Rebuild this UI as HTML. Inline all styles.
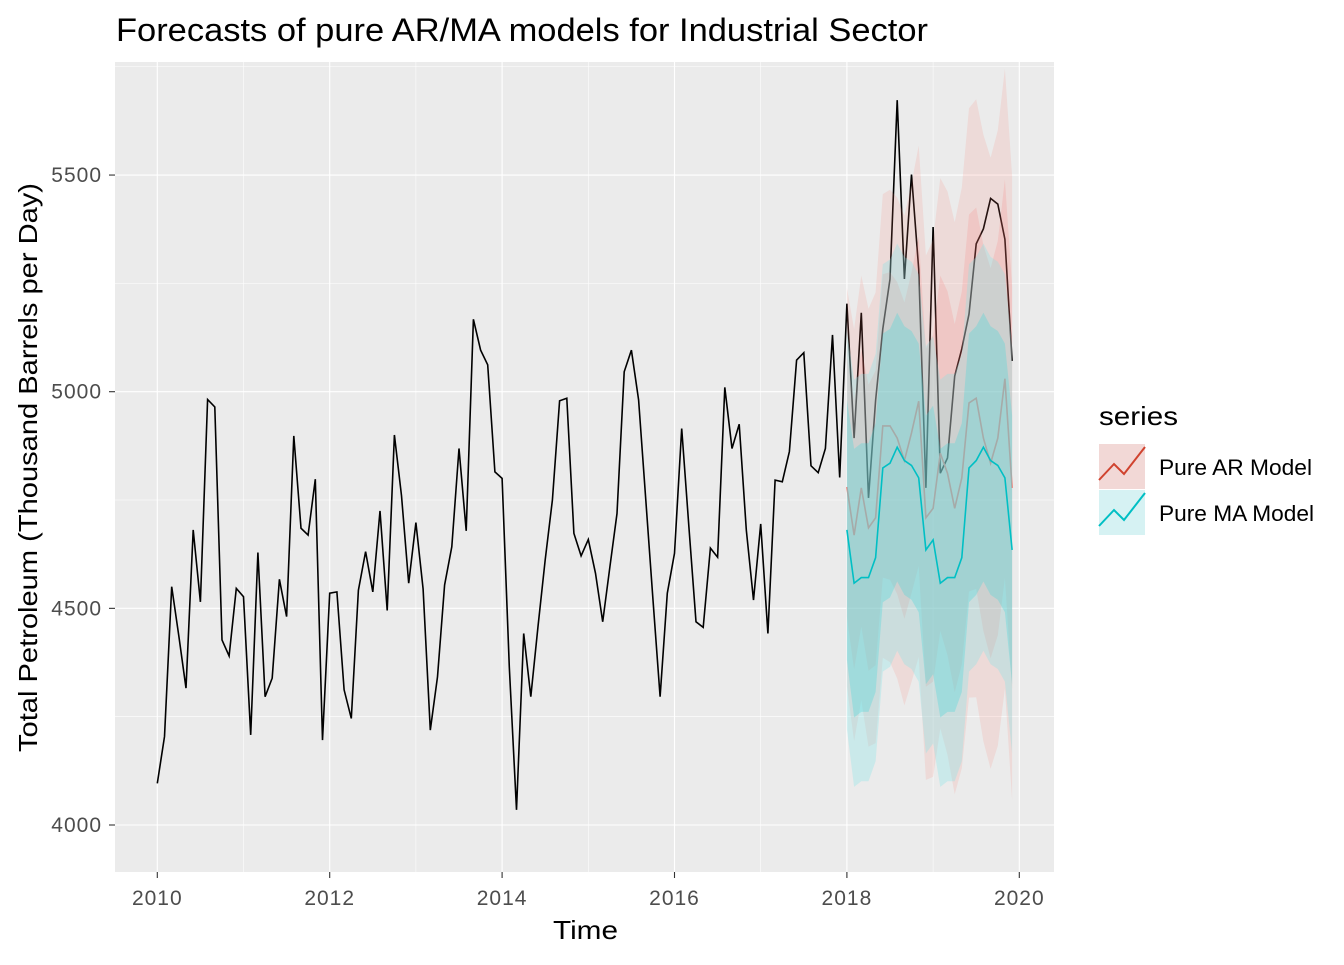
<!DOCTYPE html>
<html><head><meta charset="utf-8"><style>
body{margin:0;background:#fff;}
svg text{font-family:"Liberation Sans",Arial,sans-serif;}
</style></head><body>
<svg id="chart" width="1344" height="960" xmlns="http://www.w3.org/2000/svg">
<rect width="1344" height="960" fill="#fff"/>
<text x="116" y="41" font-size="32" textLength="812" lengthAdjust="spacingAndGlyphs" fill="#000">Forecasts of pure AR/MA models for Industrial Sector</text>
<rect x="115" y="62" width="939" height="810" fill="#EBEBEB"/>
<g id="grid"></g>
<g id="marks"></g>
<g id="axes"></g>
<text x="553" y="939" font-size="26" textLength="65" lengthAdjust="spacingAndGlyphs" fill="#000">Time</text>
<text transform="translate(37,752) rotate(-90)" font-size="26" textLength="569" lengthAdjust="spacingAndGlyphs" fill="#000">Total Petroleum (Thousand Barrels per Day)</text>
<g>
<text x="1099" y="425" font-size="26" textLength="79" lengthAdjust="spacingAndGlyphs" fill="#000">series</text>
<g>
<rect x="1099" y="444" width="46" height="45" fill="#F2D8D6"/>
<polyline points="1099,480 1114,464 1124,474 1145,447" fill="none" stroke="#D0432F" stroke-width="2"/>
<text x="1159" y="475" font-size="22" textLength="153" lengthAdjust="spacingAndGlyphs" fill="#000">Pure AR Model</text>
</g>
<g>
<rect x="1099" y="490" width="46" height="45" fill="#D6F2F3"/>
<polyline points="1099,526 1114,510 1124,520 1145,493" fill="none" stroke="#00BFC4" stroke-width="2"/>
<text x="1159" y="521" font-size="22" textLength="155" lengthAdjust="spacingAndGlyphs" fill="#000">Pure MA Model</text>
</g>
</g>
</svg>
<script>
const actual = [4096,4204,4550,4435,4316,4681,4515,4982,4965,4427,4390,4546,
4527,4208,4629,4296,4339,4567,4481,4898,4685,4669,4798,4196,
4535,4538,4312,4246,4542,4631,4538,4725,4495,4900,4760,4558,
4698,4545,4219,4342,4554,4642,4869,4679,5167,5096,5062,4815,
4800,4365,4035,4442,4296,4458,4612,4750,4979,4985,4673,4621,
4659,4581,4469,4596,4719,5046,5096,4981,4750,4519,4296,4535,
4627,4915,4688,4469,4456,4639,4618,5010,4869,4925,4681,4519,
4695,4442,4796,4792,4862,5073,5090,4829,4813,4869,5131,4802,
5203,4893,5182,4755,4980,5145,5260,5673,5260,5501,5283,4778,
5380,4812,4847,5036,5099,5179,5341,5376,5446,5433,5352,5071];
const arMean = [4780,4669,4778,4686,4709,4921,4921,4893,4841,4905,4978,4709,4731,4858,4812,4731,4801,4974,4985,4893,4835,4893,5030,4778];
const ar80 = [300,310,320,330,340,350,355,360,365,370,380,390,400,410,420,425,430,435,440,445,450,455,460,465];
const ar95 = [460,475,490,505,520,535,545,555,565,575,590,605,620,635,650,660,670,680,690,700,705,710,715,720];
const maMean = [4681,4558,4571,4571,4617,4824,4835,4872,4841,4830,4801,4635,4658,4558,4571,4571,4617,4824,4841,4872,4841,4830,4801,4635];
const ma80 = [300,310,310,310,310,310,310,310,310,310,310,310,310,310,310,310,310,310,310,310,310,310,310,310];
const ma95 = [460,470,470,470,470,470,470,470,470,470,470,470,470,470,470,470,470,470,470,470,470,470,470,470];
const xTicks = [2010,2012,2014,2016,2018,2020];
const yTicks = [4000,4500,5000,5500];

const NS="http://www.w3.org/2000/svg";
const X=t=>157.3+(t-2010)*86.2;
const Y=v=>391.7-(v-5000)*0.4333;
const tAt=i=>2010+i/12;
function mk(tag,attrs,parent){const e=document.createElementNS(NS,tag);for(const k in attrs)e.setAttribute(k,attrs[k]);parent.appendChild(e);return e;}
const grid=document.getElementById('grid'),marks=document.getElementById('marks'),axes=document.getElementById('axes');
for(let y=4250;y<=5750;y+=500){if(Y(y)>62&&Y(y)<872){const l=mk('line',{x1:115,x2:1054,y1:Y(y),y2:Y(y),stroke:'#fff','stroke-width':0.55},grid);

}}
for(let x=2009;x<=2021;x+=2){if(X(x)>115&&X(x)<1054){const l=mk('line',{x1:X(x),x2:X(x),y1:62,y2:872,stroke:'#fff','stroke-width':0.55},grid);

}}
yTicks.forEach(v=>{const l=mk('line',{x1:115,x2:1054,y1:Y(v),y2:Y(v),stroke:'#fff','stroke-width':1.1},grid);


const tk=mk('line',{x1:109,x2:115,y1:Y(v),y2:Y(v),stroke:'#333','stroke-width':1.1},axes);


const t=mk('text',{x:102,y:Y(v)+7,'font-size':21,'text-anchor':'end',fill:'#4D4D4D','letter-spacing':1},axes);t.textContent=v;

});
xTicks.forEach(v=>{const l=mk('line',{x1:X(v),x2:X(v),y1:62,y2:872,stroke:'#fff','stroke-width':1.1},grid);


const tk=mk('line',{x1:X(v),x2:X(v),y1:872,y2:878,stroke:'#333','stroke-width':1.1},axes);


const t=mk('text',{x:X(v),y:905,'font-size':21,'text-anchor':'middle',fill:'#4D4D4D','letter-spacing':1},axes);t.textContent=v;

});
const ap=actual.map((v,i)=>X(tAt(i)).toFixed(1)+','+Y(v).toFixed(1)).join(' ');
const al=mk('polyline',{points:ap,fill:'none',stroke:'#000','stroke-width':1.6},marks);


function band(mean,hw,color,op,name){
  const up=mean.map((m,i)=>X(tAt(96+i)).toFixed(1)+','+Y(m+hw[i]).toFixed(1));
  const lo=mean.map((m,i)=>X(tAt(96+i)).toFixed(1)+','+Y(m-hw[i]).toFixed(1)).reverse();
  const p=mk('polygon',{points:up.concat(lo).join(' '),fill:color,'fill-opacity':op},marks);
  
  
}
function fline(mean,color,name){
  const p=mk('polyline',{points:mean.map((m,i)=>X(tAt(96+i)).toFixed(1)+','+Y(m).toFixed(1)).join(' '),fill:'none',stroke:color,'stroke-width':1.6},marks);
  
  
}
band(arMean,ar95,'#F8766D',0.15,'ar-95-interval');
band(arMean,ar80,'#F8766D',0.18,'ar-80-interval');
fline(arMean,'#F8766D','ar-forecast-line');
band(maMean,ma95,'#7FE6E8',0.3,'ma-95-interval');
band(maMean,ma80,'#3FD6DA',0.3,'ma-80-interval');
fline(maMean,'#00BFC4','ma-forecast-line');
</script>
</body></html>
